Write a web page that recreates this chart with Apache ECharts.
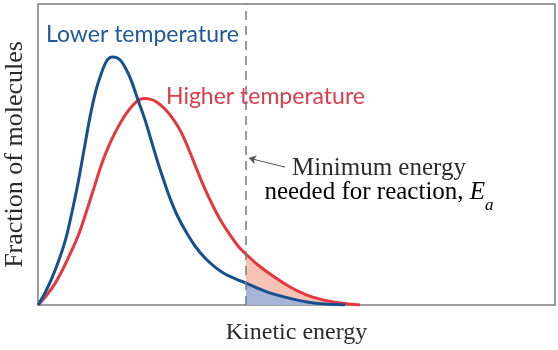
<!DOCTYPE html>
<html>
<head>
<meta charset="utf-8">
<script src="https://cdn.jsdelivr.net/npm/echarts@6/dist/echarts.min.js"></script>
<style>
  html, body { margin: 0; padding: 0; background: #fff; }
  #chart { width: 558px; height: 350px; }
</style>
</head>
<body>
<div id="chart"></div>
<script>
// kinetic energy (x) vs fraction of molecules (y)
const lowerTemp = [
  [0, 0], [0.135, 4.0], [0.271, 9.0], [0.406, 15.0], [0.542, 22.3], [0.658, 30.9],
  [0.774, 40.5], [0.890, 51.5], [1.006, 62.5], [1.122, 71.4], [1.219, 76.7], [1.315, 80.7],
  [1.393, 82.2], [1.451, 82.4], [1.528, 82.1], [1.605, 81.1], [1.702, 78.4], [1.799, 74.8],
  [1.934, 68.1], [2.070, 61.5], [2.205, 53.8], [2.321, 47.2], [2.437, 41.2], [2.553, 35.5],
  [2.689, 29.9], [2.863, 24.3], [3.037, 19.6], [3.230, 15.6], [3.424, 12.6], [3.617, 10.3],
  [3.830, 8.6], [4.023, 7.3], [4.294, 5.3], [4.545, 3.7], [4.874, 2.2], [5.203, 1.0],
  [5.551, 0.3], [5.938, 0]
]
const higherTemp = [
  [0, 0], [0.155, 3.0], [0.309, 6.6], [0.464, 11.3], [0.619, 16.9], [0.774, 22.9],
  [0.928, 30.6], [1.083, 38.9], [1.238, 47.2], [1.393, 53.8], [1.547, 59.1], [1.702, 63.5],
  [1.857, 66.8], [1.973, 68.3], [2.070, 68.6], [2.166, 68.4], [2.302, 67.4], [2.456, 65.1],
  [2.611, 61.8], [2.766, 57.5], [2.921, 51.5], [3.075, 44.9], [3.230, 38.5], [3.385, 32.9],
  [3.540, 27.9], [3.714, 23.3], [3.868, 19.6], [4.023, 16.9], [4.255, 13.3], [4.545, 9.6],
  [4.874, 6.0], [5.203, 3.3], [5.513, 1.7], [5.841, 0.7], [6.228, 0]
]
const activationEnergy = 4.023
const arrowFrom = [4.78, 45.8]
const arrowTo = [4.08, 48.8]

const chart = echarts.init(document.getElementById('chart'))

const tail = (pts) => pts.filter(p => p[0] >= activationEnergy)
const serif = 'Liberation Serif'

const option = {
  animation: false,
  grid: {
    left: 38, right: 3, top: 4, bottom: 45,
    outerBoundsMode: 'none',
    show: true, borderColor: '#7d7d7d', borderWidth: 1.5
  },
  xAxis: {
    type: 'value', min: 0, max: 10,
    name: 'Kinetic energy', nameLocation: 'middle', nameGap: 16,
    nameTextStyle: { fontFamily: serif, fontSize: 24, color: '#2b2b2b' },
    axisLine: { show: false }, axisTick: { show: false },
    axisLabel: { show: false }, splitLine: { show: false }
  },
  yAxis: {
    type: 'value', min: 0, max: 100,
    name: 'Fraction of molecules', nameLocation: 'middle', nameGap: 10,
    nameTextStyle: { fontFamily: serif, fontSize: 26, color: '#2b2b2b' },
    axisLine: { show: false }, axisTick: { show: false },
    axisLabel: { show: false }, splitLine: { show: false }
  },
  series: [
    {
      type: 'line', data: tail(higherTemp), smooth: 0.35, symbol: 'none',
      lineStyle: { width: 0 }, areaStyle: { color: '#f6c3b6', opacity: 1 }, z: 1
    },
    {
      type: 'line', data: tail(lowerTemp), smooth: 0.35, symbol: 'none',
      lineStyle: { width: 0 }, areaStyle: { color: '#a6b5d6', opacity: 1 }, z: 2
    },
    {
      name: 'Lower temperature', type: 'line', data: lowerTemp, smooth: 0.35, symbol: 'none',
      lineStyle: { color: '#16508f', width: 3 }, z: 4,
      markLine: {
        silent: true, symbol: 'none', label: { show: false },
        lineStyle: { color: '#7a7a7a', width: 1.5, type: [9, 6] },
        data: [{ xAxis: activationEnergy }]
      }
    },
    {
      name: 'Higher temperature', type: 'line', data: higherTemp, smooth: 0.35, symbol: 'none',
      lineStyle: { color: '#e8363f', width: 3 }, z: 3,
      markLine: {
        silent: true, symbol: ['none', 'arrow'], symbolSize: 7, label: { show: false },
        lineStyle: { color: '#555', width: 1, type: 'solid' },
        data: [[{ coord: arrowFrom }, { coord: arrowTo }]]
      }
    }
  ],
  graphic: [
    {
      type: 'text', left: 46, top: 23,
      style: { text: 'Lower temperature', font: '23px Lato', fill: '#1f5a97' }
    },
    {
      type: 'text', left: 166, top: 85,
      style: { text: 'Higher temperature', font: '23px Lato', fill: '#dc3b4b' }
    },
    {
      type: 'text', x: 379, y: 156,
      style: { text: 'Minimum energy', font: '25px "Liberation Serif"', fill: '#2b2b2b', align: 'center' }
    },
    {
      type: 'text', x: 379, y: 180,
      style: {
        text: '{n|needed for reaction, }{i|E}{s|a}',
        align: 'center',
        rich: {
          n: { fontFamily: serif, fontSize: 25, lineHeight: 34, verticalAlign: 'top', color: '#2b2b2b' },
          i: { fontFamily: serif, fontSize: 25, lineHeight: 34, verticalAlign: 'top', fontStyle: 'italic', color: '#2b2b2b' },
          s: { fontFamily: serif, fontSize: 17, lineHeight: 17, verticalAlign: 'bottom', fontStyle: 'italic', color: '#2b2b2b' }
        }
      }
    }
  ]
}

chart.setOption(option)
</script>
</body>
</html>
